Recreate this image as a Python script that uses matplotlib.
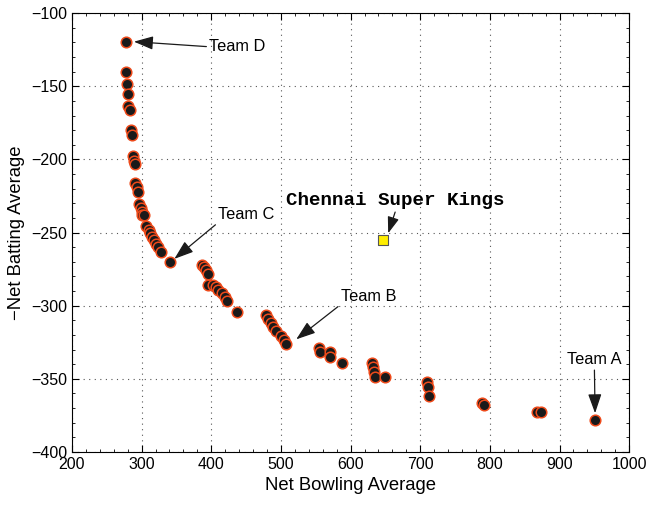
import matplotlib
matplotlib.use('Agg')
from matplotlib import pyplot as plt
from matplotlib.ticker import MultipleLocator

plt.rcParams['font.family'] = ['Liberation Sans', 'DejaVu Sans']

# net bowling average / -net batting average for every team
bowling = [277, 277, 279, 280, 281, 283, 284.5, 286, 287, 289, 290, 291, 293, 295,
           297, 299, 300, 301, 304, 306, 310, 312, 315, 318, 321, 324, 328, 341,
           387, 390, 392, 395, 396, 402, 407, 410, 415, 420, 423, 437,
           479, 482, 486, 489, 493, 500, 505, 508,
           555, 556, 570, 571, 587,
           631, 632, 633, 634.5, 650, 710, 711, 713, 788, 792, 868, 873, 951]
batting = [-120, -140.5, -148.5, -155, -163.5, -166, -180, -183, -198, -201, -203, -216, -219, -222,
           -230.5, -233, -236, -238, -238, -245.5, -248, -250.5, -253, -255, -257.5, -260, -263, -270,
           -272, -273.5, -275.5, -278.5, -286, -286, -287.5, -289.5, -291.5, -294, -297, -304,
           -306.5, -309, -312, -314.5, -317, -321, -323.5, -326,
           -329, -331.5, -331.5, -335, -339,
           -339.5, -342, -345, -349, -349, -352.5, -355.5, -361.5, -366.5, -368, -373, -373, -378]

csk = (646, -255)

# label, point, text position
labels = ['Team D', 'Team C', 'Team B', 'Team A']
heads = [(289, -119.5), (347, -268), (522, -323), (951, -373.5)]
texts = [(397, -123), (410, -238), (586, -294), (950, -337)]

fig = plt.figure(figsize=(6.48, 5.05), dpi=100)
ax = fig.add_axes([0.111, 0.105, 0.86, 0.869])

ax.scatter(bowling, batting, s=58, c='#1a1a1a', edgecolors='#ee4a1a', linewidths=1.1, zorder=3)
ax.scatter([csk[0]], [csk[1]], s=45, marker='s', c='#ffee00', edgecolors='#555555',
           linewidths=0.8, zorder=4)

arrow = dict(arrowstyle='-|>,head_length=1.0,head_width=0.35', color='#1a1a1a', lw=0.9,
             shrinkA=0, shrinkB=0)
for lab, hd, tx in zip(labels, heads, texts):
    if lab == 'Team A':
        ax.annotate(lab, xy=hd, xytext=tx, ha='center', va='center', fontsize=11.8,
                    arrowprops=dict(arrow, relpos=(0.5, 0.0)))
    else:
        ax.annotate(lab, xy=hd, xytext=tx, ha='left', va='center', fontsize=11.8,
                    arrowprops=dict(arrow, relpos=(0.0, 0.5) if lab == 'Team D' else (0.0, 0.0)))

ax.annotate('Chennai Super Kings', xy=(654, -250.5), xytext=(507, -228),
            fontsize=13.8, fontweight='bold', family='Liberation Mono',
            ha='left', va='center')
ax.annotate('', xy=(654, -250.5), xytext=(664, -236), arrowprops=arrow)

ax.set_xlim(200, 1000)
ax.set_ylim(-400, -100)
ax.xaxis.set_major_locator(MultipleLocator(100))
ax.yaxis.set_major_locator(MultipleLocator(50))
ax.xaxis.set_minor_locator(MultipleLocator(20))
ax.yaxis.set_minor_locator(MultipleLocator(10))
ax.tick_params(which='both', direction='in', top=True, right=True, labelsize=11.5)
ax.tick_params(which='major', length=5)
ax.tick_params(which='minor', length=2.5)
ax.grid(True, which='major', linestyle=(0, (1, 4)), color='#555555', linewidth=0.8)
ax.set_axisbelow(True)

ax.set_xlabel('Net Bowling Average', fontsize=13.3)
ax.set_ylabel('\u2212Net Batting Average', fontsize=13.3)

plt.savefig('out.png', dpi=100)
